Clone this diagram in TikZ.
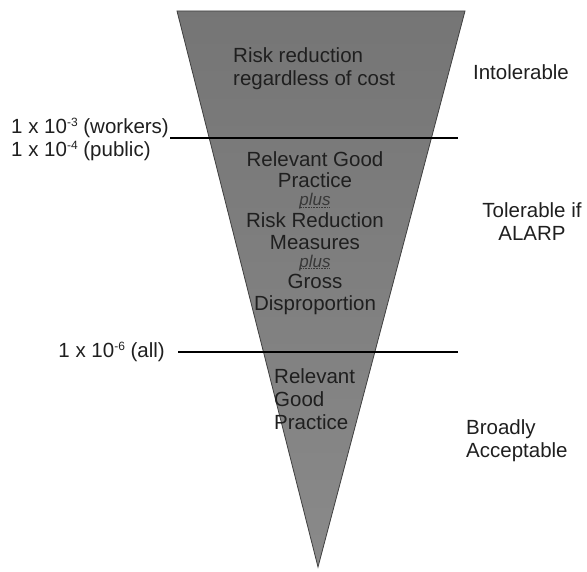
\documentclass[tikz,border=0pt]{standalone}
\usepackage{fontspec}
\setmainfont{Liberation Sans}
\newcommand{\dotul}[1]{\sbox0{#1}\rlap{\usebox0}\raisebox{-2pt}{\hbox to \wd0{\leaders\hbox to 1.6pt{\hss\rule{0.8pt}{0.8pt}\hss}\hfill}}}
\newcommand{\plusword}{{\fontsize{17}{17}\selectfont\itshape\color{black!78}\dotul{plus}}}
\newcommand{\expo}[1]{\raisebox{7pt}{\fontsize{12}{12}\selectfont #1}}
\begin{document}
\begin{tikzpicture}[x=1pt,y=1pt,
  lbl/.style={font=\fontsize{20.5}{23}\selectfont, text=black!88, inner sep=0pt},
  band/.style={line width=1.8pt, black}]
\useasboundingbox (0,0) rectangle (587,-572);
% funnel
\coordinate (tl) at (177,-11);
\coordinate (tr) at (465,-11);
\coordinate (ap) at (318,-567);
\shade[top color=black!54, bottom color=black!46, draw=black!75, line width=0.8pt]
  (tl) -- (tr) -- (ap) -- cycle;
% limit lines
\coordinate (l1a) at (170,-138);
\coordinate (l1b) at (458,-138);
\coordinate (l2a) at (178,-352);
\coordinate (l2b) at (458,-352);
\draw[band] (l1a) -- (l1b);
\draw[band] (l2a) -- (l2b);
% texts inside funnel
\node[lbl, align=left, anchor=west] (rr) at (233,-69) {Risk reduction\\regardless of cost};
\node[lbl, font=\fontsize{20.5}{21.8}\selectfont, align=center] (mid) at (315,-233) {Relevant Good\\Practice\\[-4pt]\plusword\\[0pt]Risk Reduction\\Measures\\[-4pt]\plusword\\[0pt]Gross\\Disproportion};
\node[lbl, align=left, anchor=west] (rgp) at (274,-399) {Relevant\\Good\\Practice};
% left labels
\node[lbl, align=left, anchor=west] (wk) at (11,-139) {1 x 10\expo{-3} (workers)\\1 x 10\expo{-4} (public)};
\node[lbl, anchor=east] (all) at (165,-352) {1 x 10\expo{-6} (all)};
% right labels
\node[lbl] (intol) at (521,-72) {Intolerable};
\node[lbl, align=center] (tol) at (532,-222) {Tolerable if\\ALARP};
\node[lbl, align=left, anchor=west] (broad) at (466,-441) {Broadly\\Acceptable};
\end{tikzpicture}
\end{document}
